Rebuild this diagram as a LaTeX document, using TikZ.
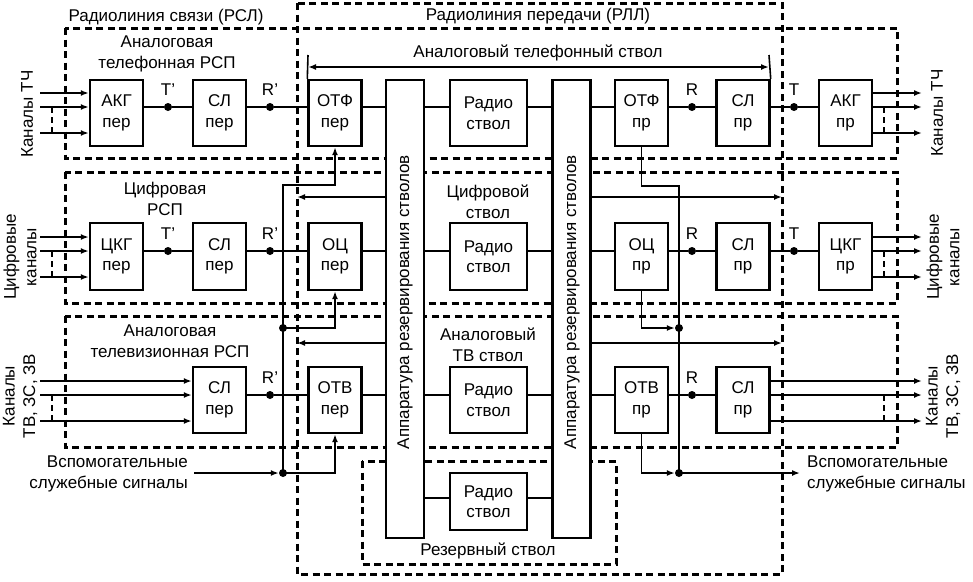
\documentclass[tikz,border=0pt]{standalone}
\usepackage{fontspec}
\setmainfont{Liberation Sans}
\usetikzlibrary{arrows.meta}
\newcommand\myfs{\fontsize{17}{20.5}\selectfont}
\begin{document}
\begin{tikzpicture}[x=1pt,y=-1pt,
  every node/.append style={font=\myfs},
  box/.style={draw, line width=2.4pt, inner sep=0pt, align=center, fill=white},
  bx/.style={box, minimum width=53pt, minimum height=66pt},
  bxr/.style={box, minimum width=77pt, minimum height=66pt},
  appbox/.style={box, minimum width=38pt, minimum height=458pt},
  conn/.style={line width=1.6pt},
  arr/.style={conn, -{Latex[length=8pt,width=6pt]}},
  darr/.style={conn, {Latex[length=8pt,width=6pt]}-{Latex[length=8pt,width=6pt]}},
  dsh/.style={line width=3pt, dash pattern=on 7pt off 4.5pt},
  thdash/.style={line width=1.3pt, dash pattern=on 6pt off 4pt},
  dot/.style={circle, fill, inner sep=0pt, minimum size=8pt},
  lbl/.style={align=center, inner sep=0pt}]
\useasboundingbox (0,0) rectangle (973,581);

% dashed group frames
\draw[dsh] (65,28) rectangle (897,158);
\draw[dsh] (65,172) rectangle (897,303);
\draw[dsh] (65,316) rectangle (897,447);
\draw[dsh] (297,3) rectangle (782,574);
\draw[dsh] (362,461) rectangle (616,564);

% group labels
\node[lbl] (tRSL) at (166,17) {Радиолиния связи (РСЛ)};
\node[lbl] (tRLL) at (538,16) {Радиолиния передачи (РЛЛ)};
\node[lbl] (tA1) at (167,54) {Аналоговая\\телефонная РСП};
\node[lbl] (tC1) at (165,199) {Цифровая\\РСП};
\node[lbl] (tTV1) at (170,341) {Аналоговая\\телевизионная РСП};
\node[lbl] (tAst) at (538,53) {Аналоговый телефонный ствол};
\node[lbl] (tCst) at (488,202) {Цифровой\\ствол};
\node[lbl] (tTVst) at (488,345) {Аналоговый\\ТВ ствол};
\node[lbl] (tRes) at (488,551) {Резервный ствол};

% reservation apparatus
\node[appbox] (app1) at (405,309) {};
\node[appbox] (app2) at (571.5,309) {};
\node[lbl, rotate=90] (app1t) at (405,302) {Аппаратура резервирования стволов};
\node[lbl, rotate=90] (app2t) at (572,302) {Аппаратура резервирования стволов};

% row 1
\node[bx] (akg1) at (116.5,113) {АКГ\\пер};
\node[bx] (sl1) at (219.5,113) {СЛ\\пер};
\node[bx] (otf1) at (335,113) {ОТФ\\пер};
\node[bxr] (rad1) at (488.5,113) {Радио\\ствол};
\node[bx] (otf2) at (641.5,113) {ОТФ\\пр};
\node[bx] (sl2) at (743,113) {СЛ\\пр};
\node[bx] (akg2) at (845.5,113) {АКГ\\пр};
% row 2
\node[bx, minimum height=67pt] (ckg1) at (116.5,256.5) {ЦКГ\\пер};
\node[bx, minimum height=67pt] (sl3) at (219.5,256.5) {СЛ\\пер};
\node[bx, minimum height=67pt] (oc1) at (335,256.5) {ОЦ\\пер};
\node[bxr, minimum height=67pt] (rad2) at (488.5,256.5) {Радио\\ствол};
\node[bx, minimum height=67pt] (oc2) at (641.5,256.5) {ОЦ\\пр};
\node[bx, minimum height=67pt] (sl4) at (743,256.5) {СЛ\\пр};
\node[bx, minimum height=67pt] (ckg2) at (845.5,256.5) {ЦКГ\\пр};
% row 3
\node[bx] (sl5) at (219.5,400) {СЛ\\пер};
\node[bx] (otv1) at (335,400) {ОТВ\\пер};
\node[bxr] (rad3) at (488.5,400) {Радио\\ствол};
\node[bx] (otv2) at (641.5,400) {ОТВ\\пр};
\node[bx] (sl6) at (743,400) {СЛ\\пр};
% reserve
\node[bxr, minimum height=57pt] (rad4) at (488.5,501.5) {Радио\\ствол};

% line levels
\coordinate (Y1) at (0,107);
\coordinate (Y2) at (0,251);
\coordinate (Y3) at (0,395);
\coordinate (Y4) at (0,498);

% dots
\node[dot] (tp1) at (168,107) {};
\node[dot] (rp1) at (270,107) {};
\node[dot] (r1) at (692,107) {};
\node[dot] (t1) at (794,107) {};
\node[dot] (tp2) at (168,251) {};
\node[dot] (rp2) at (270,251) {};
\node[dot] (r2) at (692,251) {};
\node[dot] (t2) at (794,251) {};
\node[dot] (rp3) at (270,395) {};
\node[dot] (r3) at (692,395) {};
\node[dot] (dL2) at (283,328) {};
\node[dot] (dL3) at (283,473) {};
\node[dot] (dR2) at (679,328) {};
\node[dot] (dR3) at (679,473) {};

% point labels
\node[lbl] (ltp1) at (168,90) {T'};
\node[lbl] (lrp1) at (270,90) {R'};
\node[lbl] (lr1) at (692,90) {R};
\node[lbl] (lt1) at (794,90) {T};
\node[lbl] (ltp2) at (168,234) {T'};
\node[lbl] (lrp2) at (270,234) {R'};
\node[lbl] (lr2) at (692,234) {R};
\node[lbl] (lt2) at (794,234) {T};
\node[lbl] (lrp3) at (270,378) {R'};
\node[lbl] (lr3) at (692,378) {R};

% row 1 chain
\draw[conn] (akg1.east|-Y1) -- (tp1) -- (sl1.west|-Y1);
\draw[conn] (sl1.east|-Y1) -- (rp1) -- (otf1.west|-Y1);
\draw[conn] (otf1.east|-Y1) -- (app1.west|-Y1);
\draw[conn] (app1.east|-Y1) -- (rad1.west|-Y1);
\draw[conn] (rad1.east|-Y1) -- (app2.west|-Y1);
\draw[conn] (app2.east|-Y1) -- (otf2.west|-Y1);
\draw[conn] (otf2.east|-Y1) -- (r1) -- (sl2.west|-Y1);
\draw[conn] (sl2.east|-Y1) -- (t1) -- (akg2.west|-Y1);
% row 2 chain
\draw[conn] (ckg1.east|-Y2) -- (tp2) -- (sl3.west|-Y2);
\draw[conn] (sl3.east|-Y2) -- (rp2) -- (oc1.west|-Y2);
\draw[conn] (oc1.east|-Y2) -- (app1.west|-Y2);
\draw[conn] (app1.east|-Y2) -- (rad2.west|-Y2);
\draw[conn] (rad2.east|-Y2) -- (app2.west|-Y2);
\draw[conn] (app2.east|-Y2) -- (oc2.west|-Y2);
\draw[conn] (oc2.east|-Y2) -- (r2) -- (sl4.west|-Y2);
\draw[conn] (sl4.east|-Y2) -- (t2) -- (ckg2.west|-Y2);
% row 3 chain
\draw[conn] (sl5.east|-Y3) -- (rp3) -- (otv1.west|-Y3);
\draw[conn] (otv1.east|-Y3) -- (app1.west|-Y3);
\draw[conn] (app1.east|-Y3) -- (rad3.west|-Y3);
\draw[conn] (rad3.east|-Y3) -- (app2.west|-Y3);
\draw[conn] (app2.east|-Y3) -- (otv2.west|-Y3);
\draw[conn] (otv2.east|-Y3) -- (r3) -- (sl6.west|-Y3);
% reserve chain
\draw[conn] (app1.east|-Y4) -- (rad4.west|-Y4);
\draw[conn] (rad4.east|-Y4) -- (app2.west|-Y4);

% channel inputs / outputs
\foreach \r/\ya/\yb/\yc in {1/93/107/133, 2/237/251/277, 3/381/395/421}{
  \coordinate (in\r a) at (40,\ya);
  \coordinate (in\r b) at (40,\yb);
  \coordinate (in\r c) at (40,\yc);
  \coordinate (out\r a) at (922,\ya);
  \coordinate (out\r b) at (922,\yb);
  \coordinate (out\r c) at (922,\yc);
  \draw[thdash] (52,\yb) -- (52,\yc);
  \draw[thdash] (884,\yb) -- (884,\yc);
}
\foreach \s in {a,b,c}{
  \draw[arr] (in1\s) -- (akg1.west|-in1\s);
  \draw[arr] (akg2.east|-out1\s) -- (out1\s);
  \draw[arr] (in2\s) -- (ckg1.west|-in2\s);
  \draw[arr] (ckg2.east|-out2\s) -- (out2\s);
  \draw[arr] (in3\s) -- (sl5.west|-in3\s);
  \draw[arr] (sl6.east|-out3\s) -- (out3\s);
}

% side labels
\node[lbl, rotate=90] (kL1) at (27,114) {Каналы ТЧ};
\node[lbl, rotate=90] (kL2) at (20,257) {Цифровые\\каналы};
\node[lbl, rotate=90] (kL3) at (20,396) {Каналы\\ТВ, ЗС, ЗВ};
\node[lbl, rotate=90] (kR1) at (937,113) {Каналы ТЧ};
\node[lbl, rotate=90] (kR2) at (943,257) {Цифровые\\каналы};
\node[lbl, rotate=90] (kR3) at (943,396) {Каналы\\ТВ, ЗС, ЗВ};

% analog telephone trunk bracket
\coordinate (tkL) at (308,55);
\coordinate (tkR) at (769,55);
\coordinate (aL) at (308,67);
\coordinate (aR) at (769,67);
\draw[conn] (otf1.north west) -- (tkL);
\draw[conn] (sl2.north east) -- (tkR);
\draw[darr] (aL) -- (aR);

% trunk extent arrows from the reservation apparatus
\coordinate (bL2) at (297,197);
\coordinate (bL3) at (297,343);
\coordinate (bR2) at (782,197);
\coordinate (bR3) at (782,343);
\draw[arr] (app1.west|-bL2) -- (bL2);
\draw[arr] (app1.west|-bL3) -- (bL3);
\draw[arr] (app2.east|-bR2) -- (bR2);
\draw[arr] (app2.east|-bR3) -- (bR3);

% service signal bus, transmit side
\coordinate (cL1) at (283,185);
\coordinate (vspL) at (194,473);
\draw[conn] (dL3.center) -- (dL2.center);
\draw[arr] (dL2.center) -- (cL1) -| (otf1.south);
\draw[arr] (dL2.center) -| (oc1.south);
\draw[arr] (dL3.center) -| (otv1.south);
\draw[arr] (vspL) -- (dL3);
\node[lbl, anchor=east, align=right] (vspLt) at (188,474) {Вспомогательные\\служебные сигналы};

% service signal bus, receive side
\coordinate (cR1) at (679,186);
\coordinate (vspR) at (800,473);
\draw[conn] (otf2.south) |- (cR1) -- (dR3.center);
\draw[arr] (oc2.south) |- (dR2);
\draw[arr] (otv2.south) |- (dR3);
\draw[arr] (dR3.center) -- (vspR);
\node[lbl, anchor=west, align=left] (vspRt) at (807,474) {Вспомогательные\\служебные сигналы};
\end{tikzpicture}
\end{document}
